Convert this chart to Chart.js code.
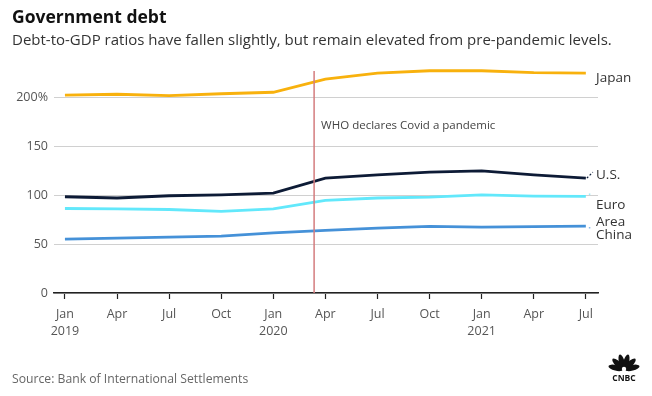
<!DOCTYPE html>
<html><head><meta charset="utf-8">
<script src="https://cdn.jsdelivr.net/npm/chart.js@4.4.1/dist/chart.umd.min.js"></script>
<style>
html,body{margin:0;padding:0;background:#fff;width:652px;height:396px;overflow:hidden;}
#wrap{position:relative;width:652px;height:396px;}
canvas{position:absolute;left:0;top:0;}
.t{position:absolute;font-family:"Open Sans",Lato,sans-serif;white-space:nowrap;}
#title{left:12px;top:4px;font-size:17.5px;font-weight:bold;color:#111;}
#sub{left:12px;top:29px;font-size:15px;color:#333;}
#src{left:12px;top:370px;font-size:12.2px;color:#666;}
</style></head>
<body><div id="wrap">
<canvas id="c" width="652" height="396"></canvas>
<div class="t" id="title">Government debt</div>
<div class="t" id="sub">Debt-to-GDP ratios have fallen slightly, but remain elevated from pre-pandemic levels.</div>
<div class="t" id="src">Source: Bank of International Settlements</div>
</div>
<script>
// months since Jan 2019
const months = [0,3,6,9,12,15,18,21,24,27,30];
const xLabels = [['Jan','2019'],['Apr'],['Jul'],['Oct'],['Jan','2020'],['Apr'],['Jul'],['Oct'],['Jan','2021'],['Apr'],['Jul']];
const yTicks = [0,50,100,150,200];
const japan = [202,203,201.5,203.5,205,218.5,224.5,227,227,225,224.5];
const us    = [98.3,97,99.3,100.3,102,117.3,120.7,123.4,124.8,120.7,117.3];
const euro  = [86.3,86,85.3,83.3,86,94.5,97,98,100.3,99,98.6];
const china = [55,56,57,58,61.5,64,66.3,68,67.3,67.7,68.4];
const pandemicMonth = 14.35;
const pandemicText = 'WHO declares Covid a pandemic';

const FONT = '"Open Sans", Lato, sans-serif';
const pts = arr => arr.map((v,i)=>({x:months[i],y:v}));

const endLabels = {
  id:'endLabels',
  afterDatasetsDraw(chart){
    const {ctx, scales:{x,y}} = chart;
    ctx.save();
    // pandemic line
    const px = x.getPixelForValue(pandemicMonth);
    ctx.strokeStyle = '#d47c7e'; ctx.lineWidth = 1.5;
    ctx.beginPath(); ctx.moveTo(px, chart.chartArea.top+13); ctx.lineTo(px, y.getPixelForValue(0)); ctx.stroke();
    ctx.fillStyle = '#444'; ctx.font = '11.5px '+FONT; ctx.textBaseline='middle'; ctx.textAlign='left';
    ctx.fillText(pandemicText, px+7, y.getPixelForValue(171));
    // end labels
    ctx.font = '13.5px '+FONT; ctx.fillStyle='#333';
    const lx = 596;
    const labs = [['Japan',219],['U.S.',120],['Euro',90],['Area',72.5],['China',59.5]];
    labs.forEach(([t,v])=>ctx.fillText(t, lx, y.getPixelForValue(v)));
    // connectors
    const ex = x.getPixelForValue(30);
    ctx.setLineDash([2,2]); ctx.strokeStyle='#0e1e3a'; ctx.lineWidth=1.2;
    ctx.beginPath(); ctx.moveTo(ex+1, y.getPixelForValue(us[10])); ctx.lineTo(ex+7, y.getPixelForValue(123.5)); ctx.stroke();
    ctx.setLineDash([]); ctx.fillStyle='#9fe9f5';
    ctx.fillRect(ex+3, y.getPixelForValue(euro[10])-3, 1.5, 1.5);
    ctx.fillStyle='#8bb8e6';
    ctx.fillRect(ex+3, y.getPixelForValue(china[10])+1, 1.5, 1.5);
    // CNBC mark
    const cx=624, cy=370;
    ctx.fillStyle='#111';
    for(let k=0;k<6;k++){
      const a = Math.PI*(-0.92+ k*0.168);
      ctx.save(); ctx.translate(cx,cy); ctx.rotate(a+Math.PI/2);
      ctx.beginPath(); ctx.ellipse(0,-8.5,2.8,7.5,0,0,Math.PI*2); ctx.fill(); ctx.restore();
    }
    ctx.fillStyle='#fff'; ctx.beginPath(); ctx.arc(cx,cy-1,2.2,0,Math.PI*2); ctx.fill();
    ctx.fillStyle='#111';
    ctx.font='bold 8.5px '+FONT; ctx.textAlign='center'; ctx.fillText('CNBC', cx, cy+9);
    ctx.restore();
  }
};

const ds = (label, data, color) => ({label, data: pts(data), borderColor: color, backgroundColor: color, borderWidth: 2.8, pointRadius: 0, tension: 0, fill: false});

new Chart(document.getElementById('c'), {
  type:'line',
  data:{datasets:[
    ds('China', china, '#4591d8'),
    ds('Euro Area', euro, '#62e8fb'),
    ds('U.S.', us, '#0d1b36'),
    ds('Japan', japan, '#f8b10d')
  ]},
  options:{
    responsive:false, animation:false, events:[],
    layout:{padding:{top:58,right:54,bottom:52,left:0}},
    plugins:{legend:{display:false}, tooltip:{enabled:false}},
    scales:{
      x:{type:'linear', min:-0.63, max:30.7,
        afterBuildTicks: s=>{ s.ticks = months.map(v=>({value:v})); },
        afterFit: s=>{ s.height = 51; },
        ticks:{autoSkip:false, maxRotation:0, padding:7, color:'#555', font:{family:FONT,size:12.5,lineHeight:1.35},
          callback:(v,i)=>xLabels[i]},
        grid:{drawOnChartArea:false, drawTicks:true, tickLength:6, tickColor:'#222', tickWidth:1.2},
        border:{color:'#222', width:1.5}
      },
      y:{min:0, max:240,
        afterBuildTicks: s=>{ s.ticks = yTicks.map(v=>({value:v})); },
        afterFit: s=>{ s.width = 54; },
        ticks:{padding:6, color:'#555', font:{family:FONT,size:12.5},
          callback:(v)=> v===200 ? '200%' : String(v)},
        grid:{color:'#d0d0d0', lineWidth:1, drawTicks:false},
        border:{display:false}
      }
    }
  },
  plugins:[endLabels]
});
</script>
</body></html>
